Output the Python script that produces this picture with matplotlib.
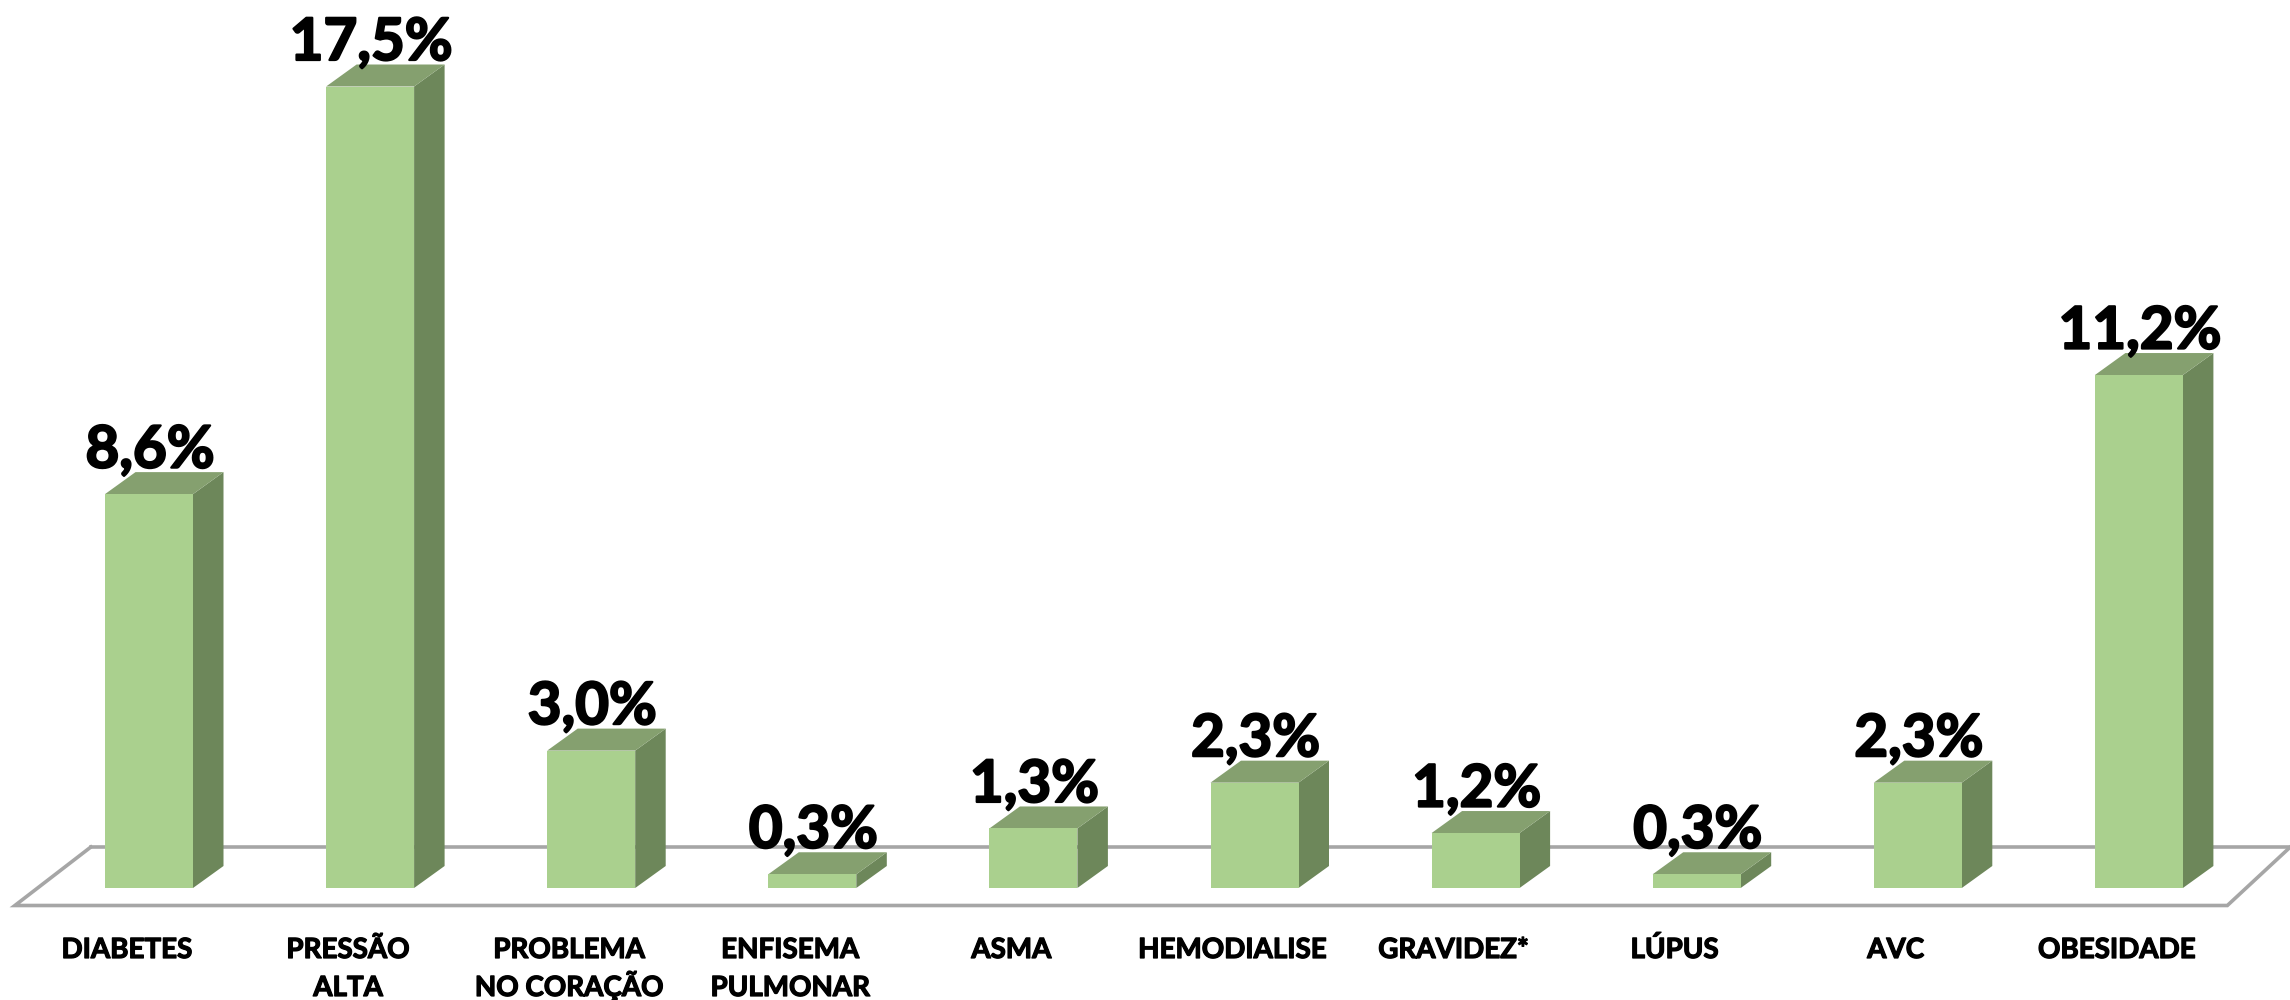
import matplotlib
matplotlib.use('Agg')
import matplotlib.pyplot as plt
import matplotlib.patheffects as pe
from matplotlib.patches import Polygon

categories = ['DIABETES', 'PRESSÃO\nALTA', 'PROBLEMA\nNO CORAÇÃO', 'ENFISEMA\nPULMONAR', 'ASMA',
              'HEMODIALISE', 'GRAVIDEZ*', 'LÚPUS', 'AVC', 'OBESIDADE']
values = [8.6, 17.5, 3.0, 0.3, 1.3, 2.3, 1.2, 0.3, 2.3, 11.2]
value_labels = ['8,6%', '17,5%', '3,0%', '0,3%', '1,3%', '2,3%', '1,2%', '0,3%', '2,3%', '11,2%']

front_col, top_col, side_col = '#AAD08E', '#85A06F', '#6D875A'
floor_col = '#A6A6A6'

W, H = 2290, 1000
x0_px, step_px = 149, 221.1   # pixel x of first bar centre, pixels per category
y0_px, unit_px = 888, 45.8    # pixel y of value 0, pixels per percent
width = 88 / step_px
dx, dy = 30.5 / step_px, 22 / unit_px  # depth of the 3d look

plt.rcParams['font.family'] = ['Lato', 'DejaVu Sans']
fig = plt.figure(figsize=(W / 100, H / 100), dpi=100)
ax = fig.add_axes([0, 0, 1, 1])
ax.set_xlim(-x0_px / step_px, (W - x0_px) / step_px)
ax.set_ylim((y0_px - H) / unit_px, y0_px / unit_px)
ax.axis('off')

# floor
fl, fr = -0.6066, 9.4
back_l, back_r = fl + 76 / step_px, fr + 63 / step_px
fb, bk = -17.5 / unit_px, 41 / unit_px
ax.plot([back_l, fl, fr, back_r], [bk, fb, fb, bk], color=floor_col, lw=2.6, zorder=1,
        solid_joinstyle='miter', clip_on=False)
ax.plot([back_l, back_r + 0.1], [bk, bk], color=floor_col, lw=2.6, zorder=1)

for i, val in enumerate(values):
    l, r = i - width / 2, i + width / 2
    ax.add_patch(Polygon([(r, 0), (r + dx, dy), (r + dx, val + dy), (r, val)], color=side_col, lw=0, zorder=2))
    ax.add_patch(Polygon([(l, val), (l + dx, val + dy), (r + dx, val + dy), (r, val)], color=top_col, lw=0, zorder=2))
    ax.bar(i, val, width, color=front_col, zorder=3)
    ax.text(i + 0.005, val + dy + 4.5 / unit_px, value_labels[i], ha='center', va='baseline', fontsize=42,
            fontweight='bold', color='black', zorder=4,
            path_effects=[pe.withStroke(linewidth=1.6, foreground='black')])
    for k, line in enumerate(categories[i].split('\n')):
        ax.text(i - 0.1, (y0_px - 958 - k * 38) / unit_px, line, ha='center', va='baseline', fontsize=20,
                fontweight='bold', color='black',
                path_effects=[pe.withStroke(linewidth=0.9, foreground='black')])

fig.savefig('out.png', dpi=100, facecolor='white')
